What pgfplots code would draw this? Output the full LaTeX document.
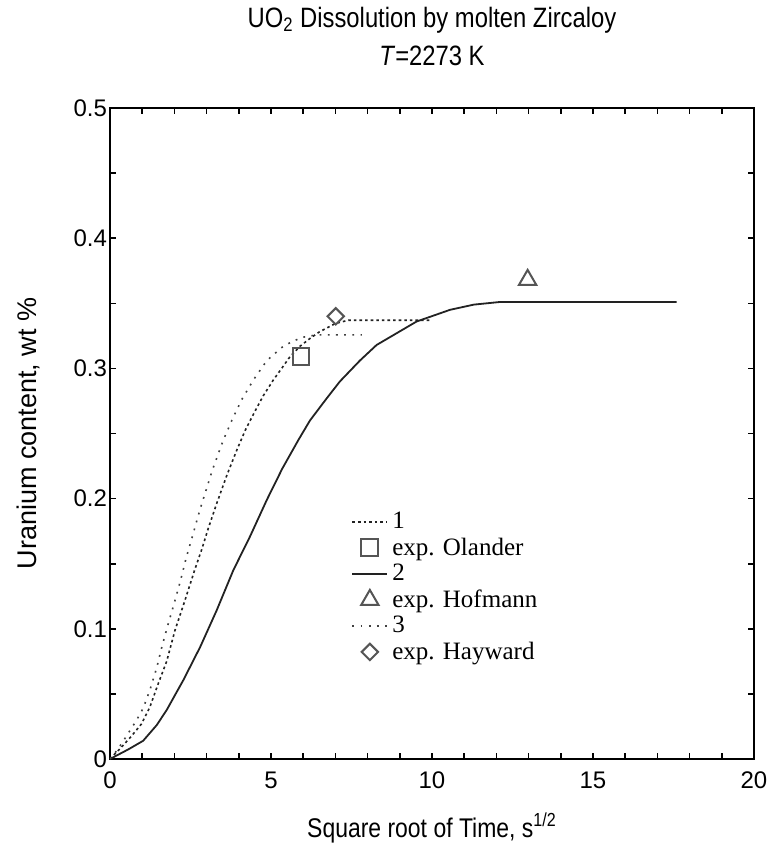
\documentclass[border=0pt]{standalone}
\usepackage{fontspec}
\setmainfont{Liberation Sans}
\newfontfamily\narrowfont{Liberation Sans}[FakeStretch=0.85]
\newfontfamily\legfont{Liberation Serif}
\usepackage{pgfplots}
\pgfplotsset{compat=1.18}
\definecolor{markgray}{HTML}{555555}
\definecolor{linedark}{HTML}{222222}
\begin{document}
\begin{tikzpicture}
\useasboundingbox (-55pt,-44.5pt) rectangle (330pt,379.5pt);
\begin{axis}[
  at={(0,0)}, anchor=south west,
  scale only axis,
  width=322pt, height=325.5pt,
  xmin=0, xmax=20, ymin=0, ymax=0.5,
  xtick={0,5,10,15,20},
  ytick={0,0.1,0.2,0.3,0.4,0.5},
  yticklabels={0,0.1,0.2,0.3,0.4,0.5},
  minor x tick num=4,
  minor y tick num=1,
  tick align=inside,
  major tick length=3pt,
  minor tick length=3pt,
  tick style={line width=0.8pt, black},
  axis line style={line width=1pt},
  every axis plot/.append style={line width=0.8pt},
  /pgf/number format/assume math mode=true,
  tick label style={font=\fontsize{12}{14}\selectfont},
  xticklabel style={yshift=-3pt},
  yticklabel style={xshift=2pt},
  xlabel={Square root of Time, s\textsuperscript{1/2}},
  ylabel={Uranium content, wt \%},
  xlabel style={font=\narrowfont\fontsize{13.5}{15}\selectfont, at={(axis description cs:0.5,-0.106)}, anchor=center},
  ylabel style={font=\fontsize{13.5}{15}\selectfont, at={(axis description cs:-0.127,0.5)}, anchor=center},
  title={UO\textsubscript{2} Dissolution by molten Zircaloy\\[3pt]\textit{T}=2273 K},
  title style={font=\narrowfont\fontsize{14}{16}\selectfont, align=center, at={(axis description cs:0.5,1)}, anchor=center, yshift=30pt},
  legend image code/.code={\draw[mark repeat=2,mark phase=2,#1] plot coordinates {(0pt,0pt) (8.75pt,0pt) (17.5pt,0pt)};},
  legend style={draw=none, fill=none, at={(axis description cs:0.365,0.392)}, anchor=north west,
    font=\legfont\fontsize{12.5}{14}\selectfont, row sep=-1pt,
    legend cell align=left},
]
\addplot[linedark, dash pattern=on 1.3pt off 1.5pt] coordinates {
(0,0) (0.39,0.010) (0.67,0.0177) (0.98,0.027) (1.24,0.040) (1.5,0.058) (1.76,0.075) (2.02,0.099) (2.33,0.122) (2.64,0.146) (2.85,0.161) (3.05,0.177) (3.31,0.196) (3.63,0.218) (3.95,0.238) (4.21,0.253) (4.5,0.267) (4.76,0.279) (5.07,0.291) (5.36,0.301) (5.59,0.309) (5.9,0.317) (6.21,0.323) (6.5,0.328) (7.0,0.3345) (7.4,0.337) (10.0,0.337)
};
\addlegendentry{1}
\addplot[only marks, mark=square, mark size=4.2pt, mark options={markgray, line width=1pt}] coordinates {(5.93,0.309)};
\addlegendentry{exp. Olander}
\addplot[linedark, line width=0.9pt] coordinates {
(0,0) (0.57,0.0074) (1.03,0.014) (1.45,0.026) (1.76,0.0376) (2.28,0.0607) (2.80,0.086) (3.31,0.114) (3.83,0.145) (4.35,0.171) (4.87,0.199) (5.35,0.223) (5.85,0.245) (6.21,0.260) (6.73,0.277) (7.14,0.29) (7.76,0.306) (8.28,0.318) (8.9,0.327) (9.52,0.336) (10.56,0.345) (11.3,0.349) (12.1,0.351) (17.6,0.351)
};
\addlegendentry{2}
\addplot[only marks, mark=triangle, mark size=5pt, mark options={markgray, line width=1pt}] coordinates {(12.97,0.368)};
\addlegendentry{exp. Hofmann}
\addplot[black!75, dash pattern=on 0.9pt off 3.2pt] coordinates {
(0,0) (0.26,0.008) (0.47,0.016) (0.65,0.023) (0.83,0.030) (1.03,0.039) (1.24,0.053) (1.45,0.070) (1.62,0.087) (1.81,0.104) (2.01,0.121) (2.19,0.137) (2.36,0.154) (2.56,0.171) (2.74,0.187) (2.85,0.196) (3.18,0.222) (3.52,0.245) (3.8,0.261) (4.09,0.276) (4.45,0.291) (4.87,0.306) (5.38,0.317) (5.69,0.321) (6.0,0.324) (6.4,0.3257) (7.82,0.3257)
};
\addlegendentry{3}
\addplot[only marks, mark=square, mark size=2.9pt, mark options={markgray, line width=1pt, rotate=45}] coordinates {(7.01,0.340)};
\addlegendentry{exp. Hayward}
\end{axis}
\end{tikzpicture}
\end{document}
